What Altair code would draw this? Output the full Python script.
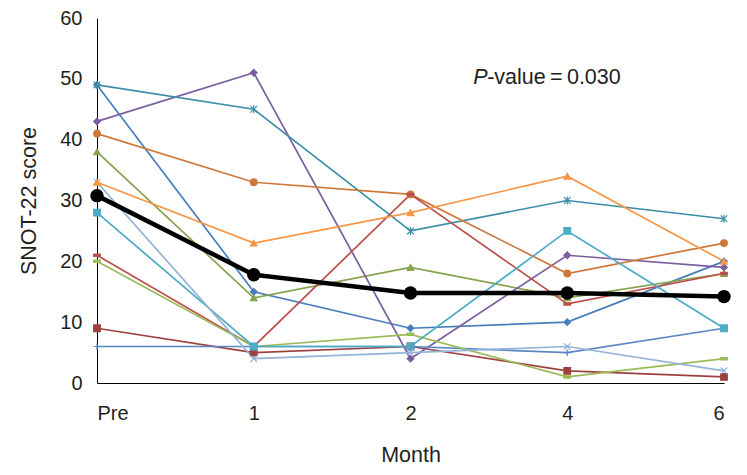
import altair as alt
import pandas as pd

# ---- data ----
month_labels = ["Pre", "1", "2", "4", "6"]
month_index = [0, 1, 2, 3, 4]

series_names = ["s1", "s2", "s3", "s4", "s5", "s6", "s7", "s8", "s9", "s10", "s11", "s12"]
s1 = [49, 15, 9, 10, 20]
s2 = [9, 5, 6, 2, 1]
s3 = [38, 14, 19, 14, 18]
s4 = [43, 51, 4, 21, 19]
s5 = [49, 45, 25, 30, 27]
s6 = [41, 33, 31, 18, 23]
s7 = [6, 6, 6, 5, 9]
s8 = [21, 6, 31, 13, 18]
s9 = [20, 6, 8, 1, 4]
s10 = [28, 6, 6, 25, 9]
s11 = [33, 4, 5, 6, 2]
s12 = [33, 23, 28, 34, 20]
series_values = [s1, s2, s3, s4, s5, s6, s7, s8, s9, s10, s11, s12]
mean_values = [30.8, 17.8, 14.8, 14.8, 14.2]

series_colors = ["#4A7EBB", "#9E413E", "#86A34E", "#7B5EA0", "#3A8EA6", "#CF7839",
                 "#5A88C4", "#BC4F4B", "#9BBB59", "#4BACC6", "#95B3D7", "#F79646"]
series_shapes = [
    "diamond",
    "square",
    "triangle-up",
    "diamond",
    "M-1,-1L1,1M-1,1L1,-1M0,-1.2L0,1.2",
    "circle",
    "M-1,0L1,0M0,-1L0,1",
    "M-1,-0.35L1,-0.35L1,0.35L-1,0.35Z",
    "M-1,-0.35L1,-0.35L1,0.35L-1,0.35Z",
    "square",
    "M-1,-1L1,1M-1,1L1,-1",
    "triangle-up",
]

annot_text_p = "P"
annot_text_rest = "-value\u2009=\u20090.030"

rows = []
for name, vals in zip(series_names, series_values):
    for i, v in zip(month_index, vals):
        rows.append({"series": name, "idx": i, "value": v})
df = pd.DataFrame(rows)
df_mean = pd.DataFrame({"idx": month_index, "value": mean_values})
df_annot = pd.DataFrame({"idx": [2.40], "value": [50.2], "p": [annot_text_p], "rest": [annot_text_rest]})

FONT = "Liberation Sans"
TXT = "#231F20"

label_expr = "[" + ",".join("'%s'" % s for s in month_labels) + "][datum.value]"

x_enc = alt.X("idx:Q",
              scale=alt.Scale(domain=[0, 4], nice=False, zero=False),
              axis=alt.Axis(values=month_index, labelExpr=label_expr, ticks=False, grid=False,
                            title="Month", labelPadding=20, titlePadding=21))
y_enc = alt.Y("value:Q",
              scale=alt.Scale(domain=[0, 60], nice=False),
              axis=alt.Axis(values=[0, 10, 20, 30, 40, 50, 60], ticks=False, grid=False,
                            title="SNOT-22 score", labelPadding=15, titlePadding=19))

color_scale = alt.Scale(domain=series_names, range=series_colors)
shape_scale = alt.Scale(domain=series_names, range=series_shapes)

lines = alt.Chart(df).mark_line(strokeWidth=1.7).encode(
    x=x_enc, y=y_enc,
    color=alt.Color("series:N", scale=color_scale, legend=None),
)

points = alt.Chart(df).mark_point(filled=True, size=44, strokeWidth=1.2, opacity=1).encode(
    x="idx:Q", y="value:Q",
    shape=alt.Shape("series:N", scale=shape_scale, legend=None),
    fill=alt.Fill("series:N", scale=color_scale, legend=None),
    stroke=alt.Stroke("series:N", scale=color_scale, legend=None),
)

mean_line = alt.Chart(df_mean).mark_line(color="black", strokeWidth=4.5).encode(
    x="idx:Q", y="value:Q")
mean_pts = alt.Chart(df_mean).mark_point(filled=True, color="black", size=180, opacity=1).encode(
    x="idx:Q", y="value:Q")

annot_p = alt.Chart(df_annot).mark_text(font=FONT, fontSize=21.5, fontStyle="italic", color=TXT,
                                         align="left", baseline="middle").encode(
    x="idx:Q", y="value:Q", text="p:N")
annot_rest = alt.Chart(df_annot).mark_text(font=FONT, fontSize=21.5, color=TXT, dx=14,
                                            align="left", baseline="middle").encode(
    x="idx:Q", y="value:Q", text="rest:N")

chart = alt.layer(lines, points, mean_line, mean_pts, annot_p, annot_rest).resolve_scale(
    fill="shared", stroke="shared", color="shared"
).properties(
    width=627, height=365,
    autosize=alt.AutoSizeParams(type="none"),
    padding={"left": 89, "top": 10, "right": 15, "bottom": 84},
).configure_view(stroke=None).configure_axis(
    domainColor="black", domainWidth=1,
    labelFont=FONT, labelFontSize=20, labelColor=TXT,
    titleFont=FONT, titleFontSize=21.5, titleColor=TXT, titleFontWeight="normal",
)

chart.save("out.html", embed_options={"renderer": "svg", "actions": False})
